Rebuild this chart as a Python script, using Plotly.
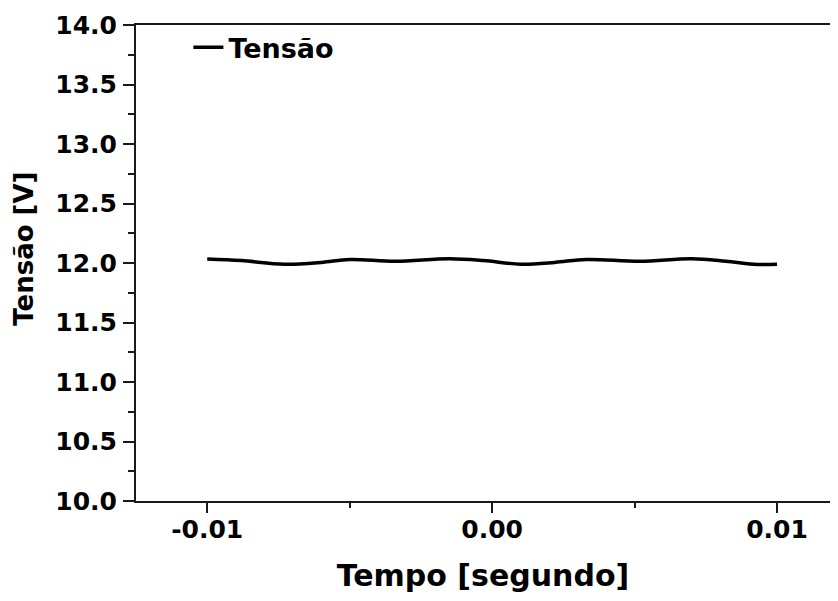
import plotly.graph_objects as go

# Data
tempo = [-0.0100, -0.0088, -0.0073, -0.0060, -0.0050, -0.0034, -0.0015, -0.0003,
         0.0010, 0.0022, 0.0033, 0.0052, 0.0070, 0.0082, 0.0093, 0.0100]
tensao = [12.034, 12.020, 11.990, 12.005, 12.030, 12.015, 12.035, 12.020,
          11.990, 12.005, 12.030, 12.015, 12.035, 12.015, 11.988, 11.990]
serie_nome = "Tensão"
x_titulo = "Tempo [segundo]"
y_titulo = "Tensão [V]"
x_ticks = [-0.01, 0.00, 0.01]
x_tick_labels = ["-0.01", "0.00", "0.01"]
y_ticks = [10.0, 10.5, 11.0, 11.5, 12.0, 12.5, 13.0, 13.5, 14.0]

FONT = "DejaVu Sans"

fig = go.Figure()
fig.add_trace(go.Scatter(
    x=tempo, y=tensao, mode="lines", name=serie_nome,
    line=dict(color="#000000", width=3.5, shape="spline", smoothing=1.0),
))

axis_common = dict(
    showgrid=False, zeroline=False, showline=True, linecolor="#1a1a1a", linewidth=2,
    ticks="outside", tickcolor="#1a1a1a", tickwidth=2,
    tickfont=dict(family=FONT, size=25, color="#000000", weight="bold"),
)

fig.update_layout(
    width=822, height=585,
    margin=dict(l=128, r=0, t=17, b=92, autoexpand=False),
    paper_bgcolor="white", plot_bgcolor="white",
    font=dict(family=FONT, color="#000000"),
    showlegend=True,
    legend=dict(x=0.0755, y=1.004, xanchor="left", yanchor="top",
                bgcolor="rgba(0,0,0,0)", borderwidth=0,
                font=dict(family=FONT, size=27, color="#000000", weight="bold")),
    xaxis=dict(
        **axis_common,
        range=[-0.0125, 0.01186], mirror=True, ticklen=10,
        tickvals=x_ticks, ticktext=x_tick_labels, ticklabelstandoff=-5,
        minor=dict(ticks="outside", dtick=0.005, tick0=0, ticklen=5, tickwidth=2, tickcolor="#1a1a1a"),
        title=dict(text=x_titulo, standoff=23,
                   font=dict(family=FONT, size=30, color="#000000", weight="bold")),
    ),
    yaxis=dict(
        **axis_common,
        range=[10.0, 14.0], mirror=False, ticklen=11,
        tickvals=y_ticks, tickformat=".1f", ticklabelstandoff=1,
        minor=dict(ticks="outside", dtick=0.25, tick0=0, ticklen=6, tickwidth=2, tickcolor="#1a1a1a"),
    ),
    annotations=[dict(
        text=y_titulo, xref="paper", yref="paper", x=-0.161, y=0.5305,
        xanchor="center", yanchor="middle", textangle=-90, showarrow=False,
        font=dict(family=FONT, size=26, color="#000000", weight="bold"),
    )],
)

fig.write_html("out.html")
